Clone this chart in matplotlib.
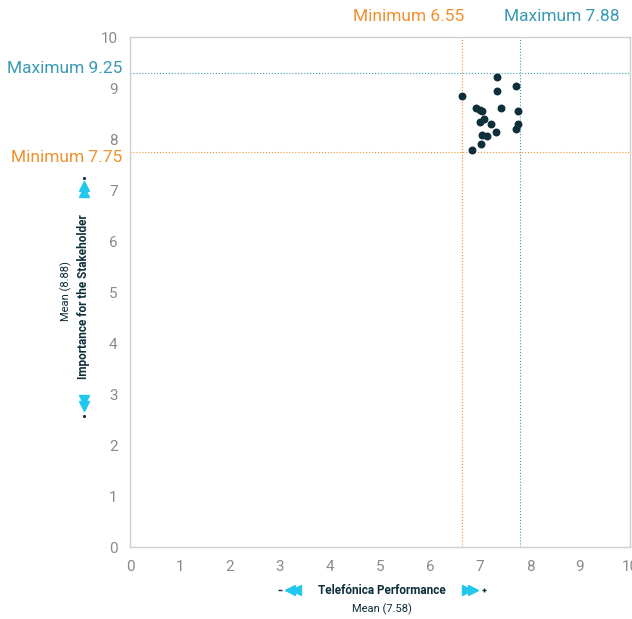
import matplotlib
matplotlib.use("Agg")
from matplotlib import pyplot as plt
from matplotlib.lines import Line2D

# Performance (x) vs importance (y) of the issues
performance = [7.35, 7.72, 6.65, 7.35, 6.93, 7.01, 7.04, 7.42, 7.76, 7.00,
               7.09, 7.22, 7.77, 7.73, 7.32, 7.04, 7.15, 7.02, 6.84]
importance = [9.21, 9.04, 8.84, 8.94, 8.60, 8.57, 8.55, 8.61, 8.55, 8.34,
              8.39, 8.29, 8.29, 8.19, 8.13, 8.08, 8.06, 7.90, 7.78]

# reference lines (position drawn, label)
x_lines = [6.64, 7.80]
x_line_labels = ["Minimum 6.55", "Maximum 7.88"]
y_lines = [9.30, 7.74]
y_line_labels = ["Maximum 9.25", "Minimum 7.75"]

ticks = list(range(0, 11))

orange = "#F0912E"
blue = "#3A9AB3"
navy = "#0D2E3B"
cyan = "#22C7EE"
grey = "#8a8a8a"

plt.rcParams['font.family'] = ['Roboto', 'DejaVu Sans']

fig = plt.figure(figsize=(6.32, 6.19), dpi=100)
ax = fig.add_axes([0.2057, 0.1163, 0.7911, 0.8239])

ax.scatter(performance, importance, s=22, color=navy, zorder=3)

ax.axvline(x_lines[0], color=orange, lw=0.8, ls=':', zorder=1)
ax.axvline(x_lines[1], color=blue, lw=0.8, ls=':', zorder=1)
ax.axhline(y_lines[0], color=blue, lw=0.8, ls=':', zorder=1)
ax.axhline(y_lines[1], color=orange, lw=0.8, ls=':', zorder=1)

ax.set_xlim(0, 10)
ax.set_ylim(0, 10)
ax.set_xticks(ticks)
ax.set_yticks(ticks)
ax.tick_params(length=0, labelsize=11, colors=grey, pad=9)
for s in ax.spines.values():
    s.set_color("#cfcfcf")
    s.set_linewidth(1.0)

# labels of the reference lines
ax.text(x_lines[0] + 0.05, 1.025, x_line_labels[0], transform=ax.get_xaxis_transform(),
        ha='right', va='bottom', color=orange, fontsize=12.5)
ax.text(x_lines[1] - 0.32, 1.025, x_line_labels[1], transform=ax.get_xaxis_transform(),
        ha='left', va='bottom', color=blue, fontsize=12.5)
ax.text(-0.016, y_lines[0] + 0.08, y_line_labels[0], transform=ax.get_yaxis_transform(),
        ha='right', va='center', color=blue, fontsize=12.5)
ax.text(-0.016, y_lines[1] - 0.1, y_line_labels[1], transform=ax.get_yaxis_transform(),
        ha='right', va='center', color=orange, fontsize=12.5)

# axis titles
fig.text(84 / 632, 1 - 297 / 619, "Importance for the Stakeholder", rotation=90,
         ha='center', va='center', fontsize=8.5, fontweight='bold', color=navy)
fig.text(66 / 632, 1 - 291 / 619, "Mean (8.88)", rotation=90,
         ha='center', va='center', fontsize=8, color=navy)
fig.text(382 / 632, 1 - 590 / 619, "Telefónica Performance",
         ha='center', va='center', fontsize=8.5, fontweight='bold', color=navy)
fig.text(382 / 632, 1 - 609 / 619, "Mean (7.58)",
         ha='center', va='center', fontsize=8, color=navy)


def mark(px, py, m, size=7, color=cyan):
    fig.add_artist(Line2D([px / 632], [1 - py / 619], marker=m, ms=size, color=color,
                          mec=color, ls='none', transform=fig.transFigure))


# arrows on the y axis title
mark(84, 186, '^')
mark(84, 192, '^')
mark(84, 178, '.', 2.5, navy)
mark(84, 400, 'v')
mark(84, 406, 'v')
mark(84, 416, '.', 2.5, navy)
# arrows on the x axis title
mark(290, 590, '<')
mark(296, 590, '<')
mark(280, 590, '_', 3, navy)
mark(467, 590, '>')
mark(473, 590, '>')
mark(484, 590, '+', 3, navy)

fig.savefig("out.png", dpi=100)
